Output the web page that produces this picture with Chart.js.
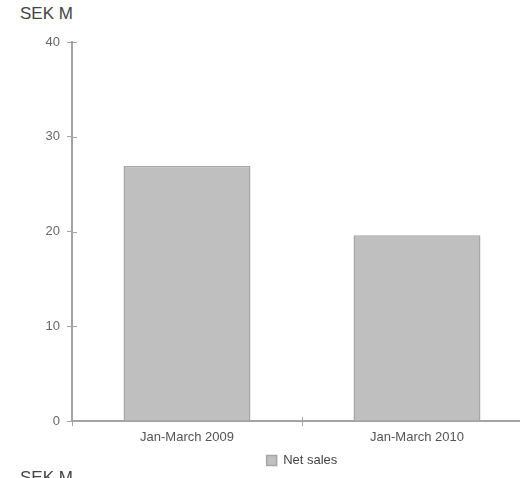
<!DOCTYPE html>
<html>
<head>
<meta charset="utf-8">
<script src="https://cdn.jsdelivr.net/npm/chart.js@4"></script>
<style>
  html, body { margin: 0; padding: 0; background: #fff; }
  #wrap { position: relative; width: 520px; height: 478px; overflow: hidden; }
  #wrap canvas { position: absolute; left: 0; top: 0; }
  .unit { position: absolute; left: 20px; font: 17px "Liberation Sans", Arial, sans-serif; color: #444; }
</style>
</head>
<body>
<div id="wrap">
  <div class="unit" style="top:4px">SEK M</div>
  <canvas id="bar-chart" width="540" height="478" style="width:540px;height:478px"></canvas>
  <div class="unit" style="top:468px">SEK M</div>
</div>
<script>
const labels = ["Jan-March 2009", "Jan-March 2010"];
const netSales = [26.9, 19.6];
const yTicks = [0, 10, 20, 30, 40];

const axisColor = "#a3a3a3";

// ticks in the reference cross the axis line, chart.js only draws them outside
const innerTicks = {
  id: "innerTicks",
  afterDraw(chart) {
    const ctx = chart.ctx;
    const x = chart.scales.x, y = chart.scales.y;
    ctx.save();
    ctx.strokeStyle = axisColor;
    ctx.lineWidth = 1;
    y.ticks.forEach((t, i) => {
      const py = Math.round(y.getPixelForTick(i)) + 0.5;
      ctx.beginPath();
      ctx.moveTo(x.left, py);
      ctx.lineTo(x.left + 5, py);
      ctx.stroke();
    });
    const mid = Math.round((x.getPixelForValue(0) + x.getPixelForValue(1)) / 2) + 0.5;
    ctx.beginPath();
    ctx.moveTo(mid, y.bottom);
    ctx.lineTo(mid, y.bottom - 4);
    ctx.stroke();
    ctx.restore();
  }
};

const data = {
  labels: labels,
  datasets: [
    {
      label: "Net sales",
      backgroundColor: "#bfbfbf",
      borderColor: "#a6a6a6",
      borderWidth: 1.5,
      data: netSales,
      categoryPercentage: 1,
      barPercentage: 0.552,
    },
  ],
};

const config = {
  type: "bar",
  data,
  options: {
    responsive: false,
    animation: false,
    layout: { padding: { left: 0, right: 8, top: 42, bottom: 1 } },
    plugins: {
      tooltip: { enabled: false },
      legend: {
        position: "bottom",
        fullSize: false,
        labels: {
          boxWidth: 10,
          boxHeight: 10,
          padding: 4,
          color: "#444",
          font: { family: "Liberation Sans", size: 13 },
        },
      },
    },
    scales: {
      x: {
        border: { color: axisColor, width: 2 },
        grid: { display: true, drawOnChartArea: false, tickLength: 5, color: axisColor, offset: true },
        ticks: { color: "#555", padding: 4, font: { family: "Liberation Sans", size: 13 } },
        afterFit: (s) => { s.height = 29; },
      },
      y: {
        min: 0,
        max: 40,
        afterBuildTicks: (s) => { s.ticks = yTicks.map((v) => ({ value: v })); },
        border: { color: axisColor, width: 2 },
        grid: { display: true, drawOnChartArea: false, tickLength: 5, color: axisColor },
        ticks: { color: "#666", padding: 7, font: { family: "Liberation Sans", size: 13 } },
        afterFit: (s) => { s.width = 72; },
      },
    },
  },
  plugins: [innerTicks],
};

const ctx = document.getElementById("bar-chart").getContext("2d");
window.myBar = new Chart(ctx, config);
</script>
</body>
</html>
